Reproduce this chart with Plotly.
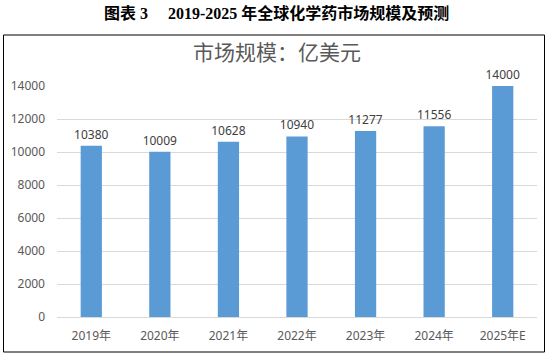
import plotly.graph_objects as go

categories = ["2019年", "2020年", "2021年", "2022年", "2023年", "2024年", "2025年E"]
values = [10380, 10009, 10628, 10940, 11277, 11556, 14000]
y_ticks = [0, 2000, 4000, 6000, 8000, 10000, 12000, 14000]
y_tick_labels = [str(v) for v in y_ticks]

fig = go.Figure()
fig.add_trace(go.Bar(
    x=categories, y=values,
    marker=dict(color="#5B9BD5", line=dict(width=0)),
    text=[str(v) for v in values],
    textposition="outside",
    textfont=dict(size=12, color="#404040", family="Noto Sans, Noto Sans CJK SC"),
    constraintext="none",
    cliponaxis=False,
    width=0.31,
))

L, R, T, B = 57, 12, 86, 41
W, H = 549, 358
pw = W - L - R
ph = H - T - B

def px_x(x):
    return (x - L) / pw

def px_y(y):
    return (H - B - y) / ph

fig.add_shape(type="rect", xref="paper", yref="paper",
              x0=px_x(3.5), x1=px_x(544.5), y0=px_y(352), y1=px_y(35),
              line=dict(color="#000000", width=1), fillcolor="rgba(0,0,0,0)", layer="below")

fig.add_annotation(text="<b>图表 3　 2019-2025 年全球化学药市场规模及预测</b>",
                   xref="paper", yref="paper", x=px_x(276), y=px_y(13),
                   showarrow=False, xanchor="center", yanchor="middle",
                   font=dict(size=16, color="#000000", family="Liberation Serif, Noto Sans CJK SC"))
fig.add_annotation(text="市场规模：亿美元",
                   xref="paper", yref="paper", x=px_x(277), y=px_y(51),
                   showarrow=False, xanchor="center", yanchor="middle",
                   font=dict(size=21, color="#595959", family="Noto Sans CJK SC"))

fig.update_layout(
    width=W, height=H,
    margin=dict(l=L, r=R, t=T, b=B),
    paper_bgcolor="white", plot_bgcolor="white",
    showlegend=False,
    bargap=0.69,
    font=dict(family="Noto Sans, Noto Sans CJK SC", size=12, color="#595959"),
    xaxis=dict(showline=True, linecolor="#D9D9D9", linewidth=1, ticks="",
               tickfont=dict(size=12, color="#595959"), showgrid=False,
               ticklabelstandoff=8),
    yaxis=dict(range=[0, 14000], tickvals=y_ticks, ticktext=y_tick_labels,
               showgrid=True, gridcolor="#D9D9D9",
               gridwidth=1, zeroline=False, showline=False, ticks="",
               tickfont=dict(size=12, color="#595959"), ticklabelstandoff=11),
)

fig.write_html("out.html", config={"displayModeBar": False},
               post_script="document.body.style.margin='0';")
